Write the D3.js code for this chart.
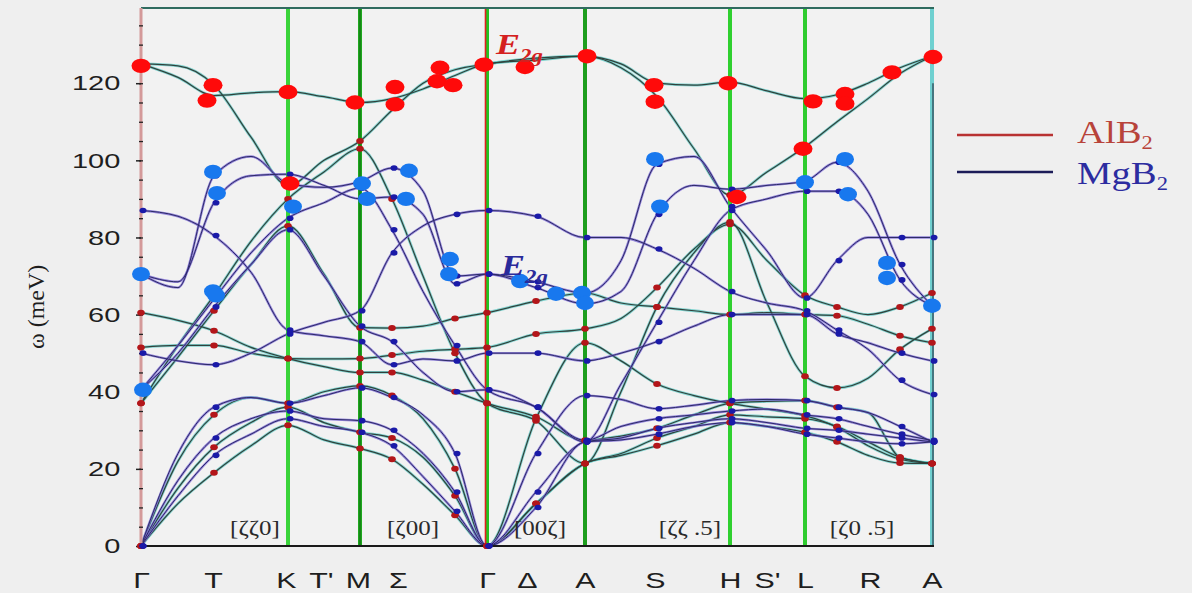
<!DOCTYPE html>
<html>
<head>
<meta charset="utf-8">
<script src="https://cdn.jsdelivr.net/npm/d3@7"></script>
<style>
    body { margin: 0; background: #efefef; }
    svg { display: block; }
</style>
</head>
<body>
<div id="chart"></div>
<script>
// Path coordinate (length along Γ-K-M-Γ-A-H-L-A) of every computed node
const nodeQ = [0, 37, 73, 110, 147, 183, 219, 251, 282, 314, 346, 395, 444, 480, 516, 553, 589, 626, 664, 696, 727, 759, 791];

// Symmetry / mid-path labels under the axis
const symLabels = ["Γ", "T", "K", "T'", "M", "Σ", "Γ", "Δ", "A", "S", "H", "S'", "L", "R", "A"];
const symLabelQ = [0, 72, 145, 180, 217, 257, 346, 386, 444, 514, 589, 626, 664, 729, 791];

// Zone boundaries drawn as vertical lines
const zoneQ = [147, 219, 346, 444, 589, 664];
const zoneColor = ["#3ad43a", "#1fa81f", "#22c422", "#1e9e1e", "#2fd02f", "#2fcc2f"];

// Direction labels
const dirLabels = ["[ζζ0]", "[ζ00]", "[00ζ]", "[ζζ .5]", "[ζ0 .5]"];
const dirLabelQ = [114, 272, 399, 549, 721];

const yTicks = [0, 20, 40, 60, 80, 100, 120];

// AlB2 branches (meV at every node)
const alb2Bands = [
    [125, 124.5, 119.5, 106, 93.5, 100, 105, 113, 120, 123.5, 125, 126.5, 127, 124, 116.5, 103, 91, 97, 103.5, 110, 116, 122.5, 127],
    [125, 121.5, 116.8, 117.5, 117.8, 116.5, 115, 116, 118.5, 122, 125, 126, 127, 125, 120, 119.5, 120.3, 118, 116, 117, 120, 124, 127],
    [37, 52, 65, 79, 90, 97, 103, 90, 70, 50, 37, 32.5, 21.4, 40, 62, 76, 84, 63, 44, 41, 43.5, 51, 56.3],
    [37, 49, 61, 73, 83, 70.5, 56.6, 56.5, 57, 59, 60.5, 63.5, 65.6, 63, 62, 61, 60, 60.5, 60, 59.7, 57.5, 54.5, 52.7],
    [51.5, 52, 52, 50, 48.6, 48.5, 48.6, 49.5, 50.5, 51, 51.5, 55, 56.3, 59, 67, 77, 83.4, 74, 65, 62, 60, 62, 65.6],
    [60.5, 58.5, 55.8, 51.5, 48.6, 46.5, 45, 45, 43, 40, 37, 33.5, 27.4, 28.5, 30.5, 34, 37, 37.5, 37.7, 36, 34.6, 23, 21.4],
    [0, 22, 34, 38.5, 37, 40, 41.5, 39, 33, 20, 0, 33, 52.7, 48, 42, 39, 37, 35.5, 33.8, 30.8, 26, 22.5, 21.4],
    [0, 15, 25.6, 32, 36, 32, 29.5, 28, 23, 13, 0, 11, 21.4, 23.5, 26, 29, 32, 31, 29.5, 27, 23.5, 21.5, 21.4],
    [0, 11, 19, 26, 31.3, 27.5, 25.3, 22.5, 16, 8, 0, 11, 21.4, 24, 28, 31, 34, 33.5, 33, 31, 27, 23, 21.4]
];

// MgB2 branches (meV at every node)
const mgb2Bands = [
    [70.5, 67, 96, 101, 94, 93, 94.5, 98, 92, 70, 70.5, 68.5, 65.6, 74, 99, 101, 88, 76.5, 64.3, 74, 80, 80, 80],
    [70.5, 68.5, 89, 96, 96.4, 93.5, 90, 90.5, 86, 68, 70.5, 67, 62.8, 66, 86, 93.5, 92.5, 93.5, 94.6, 99.5, 92, 73, 62.3],
    [87, 85.5, 80.5, 71, 56, 54.5, 53, 47, 48.5, 48, 50, 50, 48, 50, 53, 57, 60, 60, 60, 55, 52.7, 50, 48],
    [50, 48, 47, 50, 55, 58, 61, 76, 83, 86, 87, 85.5, 80, 80, 77, 72, 66, 63, 61, 56, 51, 43, 39.3],
    [40.5, 52, 64, 76, 85, 89, 92.8, 82, 66, 52, 40.5, 36, 27, 42, 58, 74, 87, 90, 92, 92, 86, 69, 62.3],
    [40.5, 50, 62, 73, 82, 70, 57, 53, 45, 40, 40.5, 36, 27.4, 31, 33, 34, 35, 35.5, 34, 33, 31, 29, 27.4],
    [0, 24, 36, 38.5, 37, 39, 41, 38.5, 34, 24, 0, 24, 39, 38, 35.6, 36.5, 37.7, 38, 37.7, 36, 34.6, 31, 27],
    [0, 17, 28, 33, 35, 33, 32.5, 30, 24, 14, 0, 14, 27, 28, 30.5, 32, 33, 32, 30.5, 30, 29, 28, 27],
    [0, 13, 23.5, 29, 33, 31, 29.5, 26, 18, 9, 0, 10, 27, 27.5, 29, 31, 32, 31, 29, 28, 27, 26.5, 27]
];

// Nodes carrying the small computed dots
const dotNodes = [0, 2, 4, 6, 7, 9, 10, 11, 12, 14, 16, 18, 19, 21, 22];

// Large symbols [q, meV]
const alb2Big = [[0, 124.5], [72, 119.5], [66, 115.5], [147, 117.7], [149, 94], [214, 115], [254, 119], [254, 114.5],
    [299, 124], [296, 120.5], [312, 119.5], [343, 124.8], [384, 124.2], [446, 127], [513, 119.5], [514, 115.2],
    [587, 120], [596, 90.5], [662, 103], [672, 115.3], [704, 117.2], [704, 114.7], [751, 122.8], [792, 126.8]];
const mgb2Big = [[0, 70.5], [2, 40.5], [72, 97], [76, 91.5], [72, 66], [75, 65], [152, 88], [221, 94], [226, 90],
    [268, 97.3], [265, 90], [309, 74.4], [308, 70.5], [379, 68.7], [415, 65.4], [441, 65.6], [444, 63],
    [514, 100.3], [519, 88], [664, 94.3], [704, 100.3], [707, 91.2], [746, 73.4], [746, 69.5], [791, 62.3]];

const legendNames = ["AlB", "MgB"];
const legendColors = ["#b83232", "#1c1c58"];
const legendText = ["#b8433a", "#2c2ca0"];

// ---------------------------------------------------------------
const W = 1192, H = 593;
const margin = {top: 8, right: 260, bottom: 47, left: 141};
const sx = 1.38; // the source picture is stretched horizontally

const x = d3.scaleLinear().domain([0, 791]).range([margin.left, W - margin.right]);
const y = d3.scaleLinear().domain([0, 139.5]).range([H - margin.bottom, margin.top]);

const svg = d3.select("#chart").append("svg")
    .attr("width", W)
    .attr("height", H);

svg.append("rect").attr("width", W).attr("height", H).attr("fill", "#efefef");
svg.append("rect")
    .attr("x", x(0)).attr("y", y(139.5))
    .attr("width", x(791) - x(0)).attr("height", y(0) - y(139.5))
    .attr("fill", "#f2f2f2");

const line = d3.line()
    .x((d, i) => x(nodeQ[i]))
    .y(d => y(d))
    .curve(d3.curveMonotoneX);

// AlB2 curves: cyan halo + dark core
const gAl = svg.append("g").attr("class", "alb2");
gAl.selectAll("path.halo").data(alb2Bands).enter().append("path")
    .attr("class", "halo")
    .attr("d", line)
    .attr("fill", "none")
    .attr("stroke", "#5cc9c4")
    .attr("stroke-width", 2.8)
    .attr("stroke-opacity", 0.75);
gAl.selectAll("path.core").data(alb2Bands).enter().append("path")
    .attr("class", "core")
    .attr("d", line)
    .attr("fill", "none")
    .attr("stroke", "#31413c")
    .attr("stroke-width", 1.2);

// MgB2 curves: purple halo + navy core
const gMg = svg.append("g").attr("class", "mgb2");
gMg.selectAll("path.halo").data(mgb2Bands).enter().append("path")
    .attr("class", "halo")
    .attr("d", line)
    .attr("fill", "none")
    .attr("stroke", "#7d6ad6")
    .attr("stroke-width", 2.4)
    .attr("stroke-opacity", 0.8);
gMg.selectAll("path.core").data(mgb2Bands).enter().append("path")
    .attr("class", "core")
    .attr("d", line)
    .attr("fill", "none")
    .attr("stroke", "#2c2a66")
    .attr("stroke-width", 1);

// Zone boundary lines
const gZone = svg.append("g");
zoneQ.forEach((q, i) => {
    gZone.append("line")
        .attr("x1", x(q)).attr("x2", x(q))
        .attr("y1", y(139.5)).attr("y2", y(0))
        .attr("stroke", zoneColor[i])
        .attr("stroke-width", 4);
});
// Γ line has a red left edge, M line a dark centre
gZone.append("line")
    .attr("x1", x(346) - 1.5).attr("x2", x(346) - 1.5)
    .attr("y1", y(139.5)).attr("y2", y(0))
    .attr("stroke", "#e02020").attr("stroke-width", 1.6);
gZone.append("line")
    .attr("x1", x(219)).attr("x2", x(219))
    .attr("y1", y(139.5)).attr("y2", y(0))
    .attr("stroke", "#157015").attr("stroke-width", 1.2);

// Right border (A)
svg.append("line")
    .attr("x1", x(791)).attr("x2", x(791))
    .attr("y1", y(139.5)).attr("y2", y(0))
    .attr("stroke", "#6fd0d0").attr("stroke-width", 4);
svg.append("line")
    .attr("x1", x(791) + 1).attr("x2", x(791) + 1)
    .attr("y1", y(120)).attr("y2", y(0))
    .attr("stroke", "#2a3a4a").attr("stroke-width", 1.2);

// Top and bottom borders
svg.append("line")
    .attr("x1", x(0)).attr("x2", x(791) + 2)
    .attr("y1", y(139.5)).attr("y2", y(139.5))
    .attr("stroke", "#2f6b5f").attr("stroke-width", 2);
svg.append("line")
    .attr("x1", x(0) - 2).attr("x2", x(791) + 2)
    .attr("y1", y(0)).attr("y2", y(0))
    .attr("stroke", "#1a1a1a").attr("stroke-width", 2);

// Left axis: pink spine with black ticks
svg.append("line")
    .attr("x1", x(0)).attr("x2", x(0))
    .attr("y1", y(139.5)).attr("y2", y(0))
    .attr("stroke", "#d49a9a").attr("stroke-width", 3);

const yMinor = svg.append("g")
    .attr("transform", `translate(${x(0)},0)`)
    .call(d3.axisLeft(y).tickValues(d3.range(0, 140, 5)).tickFormat("").tickSizeInner(-4).tickSizeOuter(0));
yMinor.select(".domain").remove();
yMinor.selectAll("line").attr("stroke", "#222").attr("stroke-width", 1.3).attr("transform", "translate(-2,0)");

const yAxis = svg.append("g")
    .attr("transform", `translate(${x(0)},0)`)
    .call(d3.axisLeft(y).tickValues(yTicks).tickSizeInner(5).tickSizeOuter(0).tickPadding(10));
yAxis.select(".domain").remove();
yAxis.selectAll("line").attr("stroke", "#222").attr("stroke-width", 1.5);
yAxis.selectAll("text")
    .attr("font-family", "Liberation Sans, Arial, sans-serif")
    .attr("font-size", 21)
    .attr("fill", "#1e1e1e")
    .attr("transform", `scale(${sx},1)`);

// Path labels below the axis
const xAxis = svg.append("g")
    .attr("transform", `translate(0,${y(0)})`)
    .call(d3.axisBottom(x).tickValues(symLabelQ).tickFormat((d, i) => symLabels[i]).tickSize(0).tickPadding(26));
xAxis.select(".domain").remove();
xAxis.selectAll("text")
    .attr("font-family", "Liberation Sans, Arial, sans-serif")
    .attr("font-size", 22)
    .attr("fill", "#1e1e1e")
    .attr("transform", `scale(${sx},1)`);

// Axis title
svg.append("text")
    .attr("transform", `translate(44,${y(62)}) rotate(-90)`)
    .attr("text-anchor", "middle")
    .attr("font-family", "Liberation Serif, Times New Roman, serif")
    .attr("font-size", 24)
    .attr("fill", "#1e1e1e")
    .text("ω (meV)");

// Direction labels
dirLabels.forEach((t, i) => {
    svg.append("g")
        .attr("transform", `translate(${x(dirLabelQ[i])},535) scale(1.25,1)`)
        .append("text")
        .attr("text-anchor", "middle")
        .attr("font-family", "Liberation Serif, Times New Roman, serif")
        .attr("font-size", 20)
        .attr("fill", "#2a2a2a")
        .text(t);
});

// Small computed dots
const dotData = (bands) => {
    const out = [];
    bands.forEach(b => dotNodes.forEach(n => {
        if (b[n] < 110) out.push([nodeQ[n], b[n]]);
    }));
    return out;
};
svg.append("g").selectAll("ellipse").data(dotData(alb2Bands)).enter().append("ellipse")
    .attr("cx", d => x(d[0])).attr("cy", d => y(d[1]))
    .attr("rx", 3.8).attr("ry", 3)
    .attr("fill", "#b3161a");
svg.append("g").selectAll("ellipse").data(dotData(mgb2Bands)).enter().append("ellipse")
    .attr("cx", d => x(d[0]) + 2).attr("cy", d => y(d[1]))
    .attr("rx", 3.5).attr("ry", 2.8)
    .attr("fill", "#1a1aa8");

// Large symbols
svg.append("g").selectAll("ellipse").data(alb2Big).enter().append("ellipse")
    .attr("cx", d => x(d[0])).attr("cy", d => y(d[1]))
    .attr("rx", 9.5).attr("ry", 7.2)
    .attr("fill", "#ff0a0a");
svg.append("g").selectAll("ellipse").data(mgb2Big).enter().append("ellipse")
    .attr("cx", d => x(d[0])).attr("cy", d => y(d[1]))
    .attr("rx", 9).attr("ry", 7.2)
    .attr("fill", "#1878ee");

// E2g annotations
const e2g = (q, w, color) => {
    const t = svg.append("g")
        .attr("transform", `translate(${x(q)},${y(w)}) scale(1.2,1)`)
        .append("text")
        .attr("font-family", "Liberation Serif, Times New Roman, serif")
        .attr("font-style", "italic")
        .attr("font-weight", "bold")
        .attr("fill", color);
    t.append("tspan").attr("font-size", 30).text("E");
    t.append("tspan").attr("font-size", 19).attr("dy", 8).text("2g");
};
e2g(355, 127.5, "#d42020");
e2g(360, 70.2, "#2a2a9a");

// Legend
legendNames.forEach((name, i) => {
    const ly = 135 + i * 37;
    svg.append("line")
        .attr("x1", 957).attr("x2", 1053)
        .attr("y1", ly).attr("y2", ly)
        .attr("stroke", legendColors[i]).attr("stroke-width", 2.6);
    const t = svg.append("g")
        .attr("transform", `translate(1077,${ly + 8 + i * 4}) scale(1.25,1)`)
        .append("text")
        .attr("font-family", "Liberation Serif, Times New Roman, serif")
        .attr("fill", legendText[i]);
    t.append("tspan").attr("font-size", 31).text(name);
    t.append("tspan").attr("font-size", 18).attr("dy", 6).text("2");
});
</script>
</body>
</html>
